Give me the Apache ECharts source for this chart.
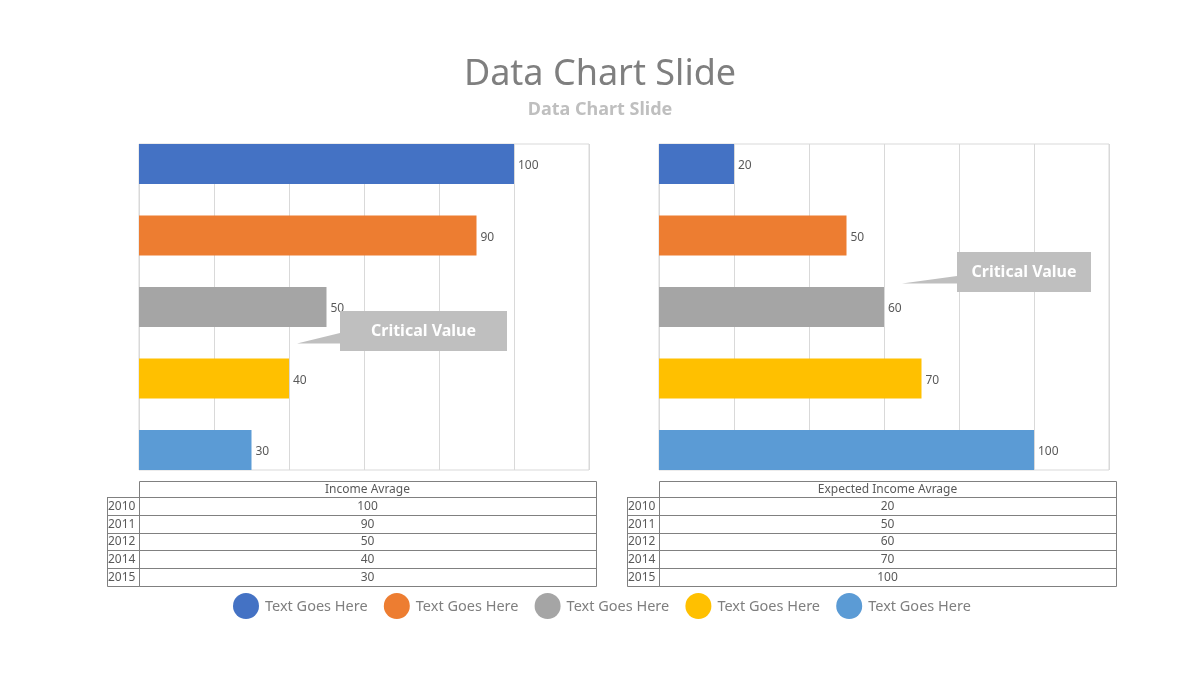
<!DOCTYPE html>
<html>
<head>
<meta charset="utf-8">
<script src="https://cdn.jsdelivr.net/npm/echarts@6/dist/echarts.min.js"></script>
<style>
html,body{margin:0;padding:0;background:#fff;}
#chart{width:1200px;height:680px;}
</style>
</head>
<body>
<div id="chart"></div>
<script>
// ---- data ----
const categories = ['2010', '2011', '2012', '2014', '2015'];
const incomeAvg = [100, 90, 50, 40, 30];
const expectedIncomeAvg = [20, 50, 60, 70, 100];
const tableTitles = ['Income Avrage', 'Expected Income Avrage'];
const legendLabels = ['Text Goes Here', 'Text Goes Here', 'Text Goes Here', 'Text Goes Here', 'Text Goes Here'];
const calloutText = 'Critical Value';
const titleText = 'Data Chart Slide';
const subtitleText = 'Data Chart Slide';

// ---- styles ----
const palette = ['#4472C4', '#ED7D31', '#A5A5A5', '#FFC000', '#5B9BD5'];
const FONT = '"Noto Sans", "Open Sans", sans-serif';
const panels = [
  { left: 139, values: incomeAvg, title: tableTitles[0] },
  { left: 659, values: expectedIncomeAvg, title: tableTitles[1] }
];
const plotTop = 144, plotH = 326, plotW = 450, barW = 40;
// bars are spread from the top edge to the bottom edge of the frame
const step = (plotH - barW) / (categories.length - 1);
const barGridTop = plotTop + barW / 2 - step / 2;
const barGridH = step * categories.length;

const grids = [], xAxes = [], yAxes = [], series = [];
panels.forEach((p, i) => {
  // frame grid with vertical gridlines
  grids.push({ left: p.left, top: plotTop, width: plotW, height: plotH, show: true, borderColor: '#d9d9d9', borderWidth: 1, backgroundColor: 'transparent' });
  xAxes.push({ type: 'value', gridIndex: 2 * i, min: 0, max: 120, interval: 20,
    axisLabel: { show: false }, axisLine: { show: false }, axisTick: { show: false },
    splitLine: { show: true, lineStyle: { color: '#d9d9d9', width: 1 } } });
  yAxes.push({ type: 'category', gridIndex: 2 * i, data: categories, show: false });
  series.push({ type: 'bar', xAxisIndex: 2 * i, yAxisIndex: 2 * i, data: [], silent: true });
  // bar grid
  grids.push({ left: p.left, top: barGridTop, width: plotW, height: barGridH });
  xAxes.push({ type: 'value', gridIndex: 2 * i + 1, min: 0, max: 120, interval: 20, show: false, splitLine: { show: false } });
  yAxes.push({ type: 'category', gridIndex: 2 * i + 1, data: categories, inverse: true, show: false });
  series.push({
    type: 'bar', xAxisIndex: 2 * i + 1, yAxisIndex: 2 * i + 1, barWidth: barW,
    data: p.values.map((v, k) => ({ value: v, itemStyle: { color: palette[k] } })),
    label: { show: true, position: 'right', distance: 4, offset: [0, 2], color: '#595959', fontSize: 12, fontFamily: FONT },
    z: 3
  });
});

// ---- graphics: tables, legend, callouts ----
const graphic = [];
const tblTop = 481, headH = 16, rowH = 17.8, labW = 32, tblW = 457;
const lineColor = '#808080';
const tblFont = '12px ' + FONT;
panels.forEach((p) => {
  const x0 = p.left - labW, x1 = p.left, x2 = p.left + tblW;
  const rowsTop = tblTop + headH;
  const bottom = rowsTop + rowH * categories.length;
  graphic.push({ type: 'rect', shape: { x: x1 + 0.5, y: tblTop + 0.5, width: tblW, height: bottom - tblTop }, style: { fill: 'none', stroke: lineColor, lineWidth: 1 } });
  graphic.push({ type: 'rect', shape: { x: x0 + 0.5, y: rowsTop + 0.5, width: labW, height: bottom - rowsTop }, style: { fill: 'none', stroke: lineColor, lineWidth: 1 } });
  for (let k = 0; k < categories.length; k++) {
    const y = Math.round(rowsTop + rowH * k) + 0.5;
    graphic.push({ type: 'line', shape: { x1: x0, y1: y, x2: x2, y2: y }, style: { stroke: lineColor, lineWidth: 1 } });
    const cy = rowsTop + rowH * (k + 0.5) + 0.5;
    graphic.push({ type: 'text', x: x0 + 1, y: cy, style: { text: categories[k], fill: '#595959', font: tblFont, textAlign: 'left', textVerticalAlign: 'middle' } });
    graphic.push({ type: 'text', x: (x1 + x2) / 2, y: cy, style: { text: String(p.values[k]), fill: '#595959', font: tblFont, textAlign: 'center', textVerticalAlign: 'middle' } });
  }
  graphic.push({ type: 'text', x: (x1 + x2) / 2, y: tblTop + headH / 2 + 0.5, style: { text: p.title, fill: '#595959', font: tblFont, textAlign: 'center', textVerticalAlign: 'middle' } });
});

// legend
const legCx0 = 246, legStep = 150.8, legY = 606;
legendLabels.forEach((t, k) => {
  const cx = legCx0 + legStep * k;
  graphic.push({ type: 'circle', shape: { cx: cx, cy: legY, r: 13 }, style: { fill: palette[k] } });
  graphic.push({ type: 'text', x: cx + 19, y: legY + 1, style: { text: t, fill: '#7f7f7f', font: '14.5px ' + FONT, textAlign: 'left', textVerticalAlign: 'middle' } });
});

// callouts
function callout(bx, by, bw, bh, py1, py2, tipX) {
  graphic.push({ type: 'polygon', shape: { points: [[bx, by], [bx + bw, by], [bx + bw, by + bh], [bx, by + bh], [bx, py2], [tipX, py2], [bx, py1]] }, style: { fill: '#bfbfbf' }, z: 10 });
  graphic.push({ type: 'text', x: bx + bw / 2, y: by + bh / 2, style: { text: calloutText, fill: '#ffffff', font: 'bold 16px ' + FONT, textAlign: 'center', textVerticalAlign: 'middle' }, z: 11 });
}
callout(340, 311, 167, 40, 333, 343.5, 297);
callout(957, 252, 134, 40, 276, 283.5, 902);

const chart = echarts.init(document.getElementById('chart'), null, { renderer: 'canvas' });
chart.setOption({
  backgroundColor: '#ffffff',
  animation: false,
  title: [
    { text: titleText, left: 'center', top: 52, textStyle: { color: '#7f7f7f', fontSize: 36, fontWeight: 'normal', fontFamily: FONT } },
    { text: subtitleText, left: 'center', top: 96, textStyle: { color: '#bfbfbf', fontSize: 18, fontWeight: 'bold', fontFamily: FONT } }
  ],
  grid: grids,
  xAxis: xAxes,
  yAxis: yAxes,
  series: series,
  graphic: graphic
});
</script>
</body>
</html>
